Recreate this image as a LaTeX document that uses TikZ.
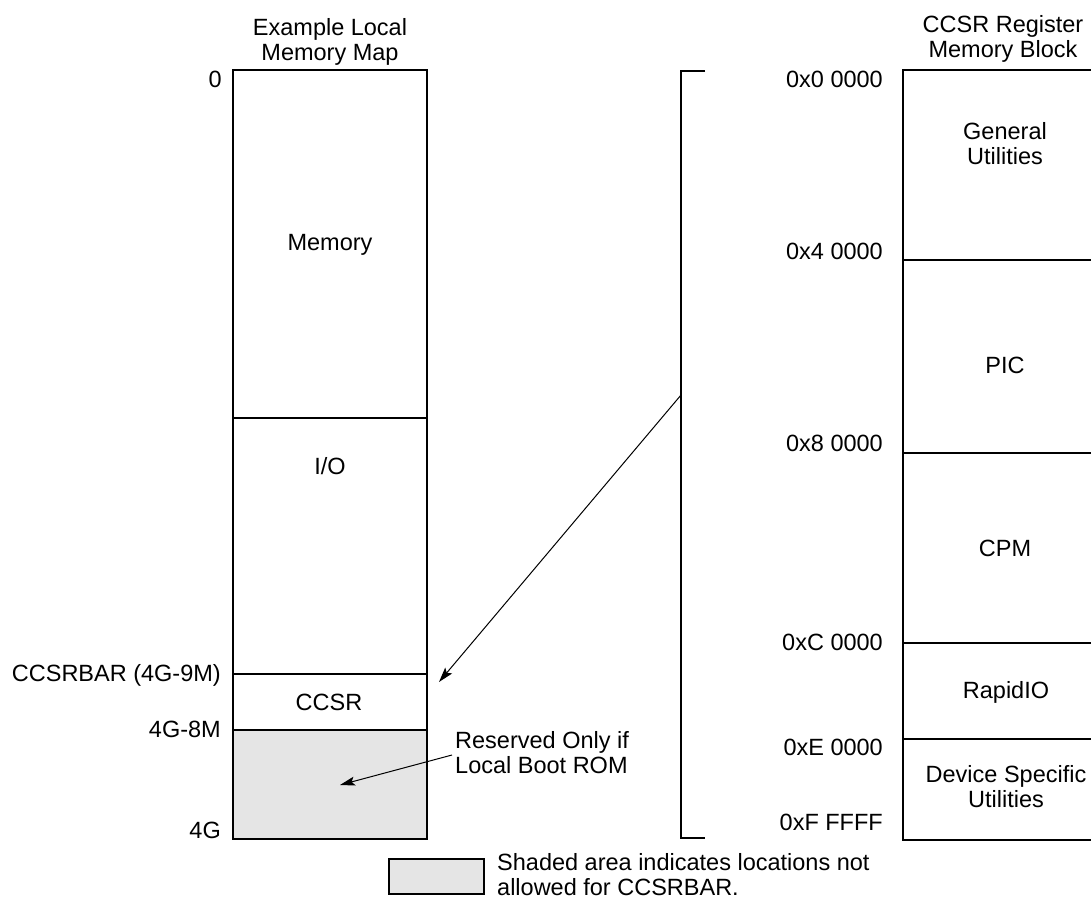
\documentclass[tikz,border=0pt]{standalone}
\usepackage{fontspec}
\setmainfont{Liberation Sans}
\usetikzlibrary{arrows.meta}
\definecolor{shadegray}{HTML}{E5E5E5}
\tikzset{
  lbl/.style={inner sep=0pt, font=\fontsize{23.5}{25}\selectfont},
  mlbl/.style={lbl, align=center},
  frame/.style={draw=black, line width=2.5pt},
  divider/.style={draw=black, line width=2pt},
  ptr/.style={draw=black, line width=1pt, -{Stealth[length=15pt,width=9pt,inset=3pt]}}
}
\begin{document}
\begin{tikzpicture}[x=1pt,y=-1pt]
\useasboundingbox (0,0) rectangle (1091,901);
% ---------- left memory map ----------
\fill[fill=shadegray] (233,730) rectangle (427,839);
\draw[divider] (233,418) -- (427,418);
\draw[divider] (233,674) -- (427,674);
\draw[divider] (233,730) -- (427,730);
\draw[frame] (233,70) rectangle (427,839);
\node[mlbl, anchor=north] (ltitle) at (330,18) {Example Local\\Memory Map};
\node[lbl, anchor=base] (mem) at (330,251) {Memory};
\node[lbl, anchor=base] (io) at (330,474) {I/O};
\node[lbl, anchor=base] (ccsr) at (329,710) {CCSR};
\node[lbl, anchor=base east] (a0) at (222,88) {0};
\node[lbl, anchor=base east] (abar) at (221,681) {CCSRBAR (4G-9M)};
\node[lbl, anchor=base east] (a8m) at (221,737) {4G-8M};
\node[lbl, anchor=base east] (a4g) at (221,838) {4G};
% reserved note
\node[mlbl, align=left, anchor=north west] (resv) at (455,731) {Reserved Only if\\Local Boot ROM};
\coordinate (resvstart) at (452,755);
\coordinate (resvend) at (340,785);
\draw[ptr] (resvstart) -- (resvend);
% ---------- bracket ----------
\draw[frame, line cap=butt] (705,71) -- (681,71) -- (681,838) -- (705,838);
\coordinate (brk) at (681,395);
\coordinate (ccsrtip) at (439,682);
\draw[ptr] (brk) -- (ccsrtip);
% ---------- right CCSR block ----------
\draw[divider] (903,260) -- (1100,260);
\draw[frame] (903,453) -- (1100,453);
\draw[divider] (903,643) -- (1100,643);
\draw[divider] (903,739) -- (1100,739);
\draw[frame] (903,70) rectangle (1100,840);
\node[mlbl, anchor=north] (rtitle) at (1003,15) {CCSR Register\\Memory Block};
\node[mlbl, anchor=north] (gu) at (1005,122) {General\\Utilities};
\node[lbl, anchor=base] (pic) at (1005,373) {PIC};
\node[lbl, anchor=base] (cpm) at (1005,556) {CPM};
\node[lbl, anchor=base] (rio) at (1006,698) {RapidIO};
\node[mlbl, anchor=north] (dsu) at (1006,765) {Device Specific\\Utilities};
\node[lbl, anchor=base east] (h0) at (883,88) {0x0 0000};
\node[lbl, anchor=base east] (h4) at (883,259) {0x4 0000};
\node[lbl, anchor=base east] (h8) at (883,451) {0x8 0000};
\node[lbl, anchor=base east] (hC) at (883,650) {0xC 0000};
\node[lbl, anchor=base east] (hE) at (883,755) {0xE 0000};
\node[lbl, anchor=base east] (hF) at (883,830) {0xF FFFF};
% ---------- legend ----------
\node[draw=black, line width=2pt, fill=shadegray, minimum width=95pt, minimum height=35pt, inner sep=0pt, anchor=north west] (leg) at (388,858) {};
\node[mlbl, align=left, anchor=north west] (legtxt) at (497,853) {Shaded area indicates locations not\\allowed for CCSRBAR.};
\end{tikzpicture}
\end{document}
